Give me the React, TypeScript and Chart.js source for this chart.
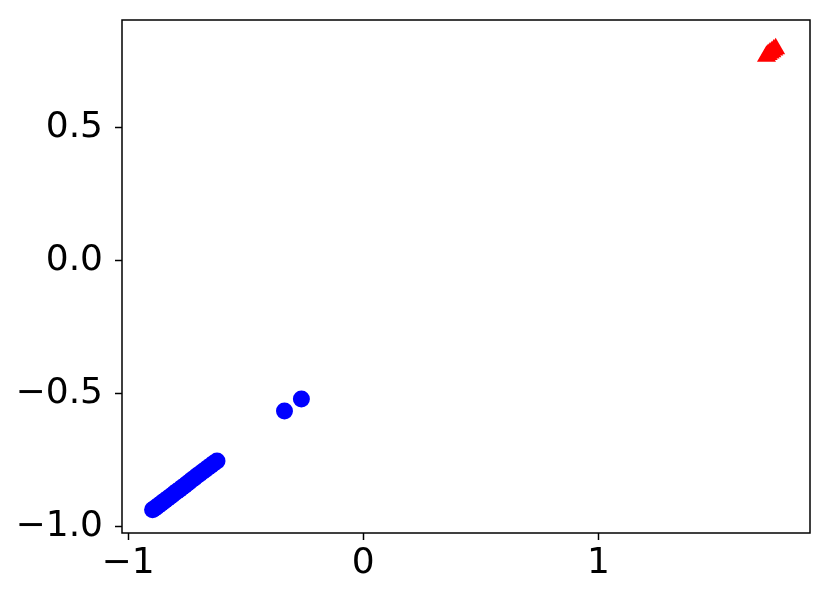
import React, { useEffect, useRef } from "react";
import { Chart, registerables } from "chart.js";

Chart.register(...registerables);

const blueX = [-0.896, -0.888, -0.879, -0.870, -0.861, -0.851, -0.842, -0.832, -0.822, -0.812, -0.802, -0.792, -0.781, -0.771, -0.760, -0.750, -0.740, -0.729, -0.718, -0.707, -0.696, -0.684, -0.672, -0.660, -0.648, -0.636, -0.622, -0.335, -0.263];
const blueY = [-0.936, -0.931, -0.925, -0.919, -0.913, -0.906, -0.900, -0.893, -0.887, -0.880, -0.873, -0.866, -0.859, -0.852, -0.845, -0.838, -0.831, -0.823, -0.816, -0.808, -0.801, -0.793, -0.785, -0.777, -0.769, -0.761, -0.752, -0.564, -0.519];
const redX = [1.715, 1.722, 1.730, 1.738, 1.746, 1.754];
const redY = [0.770, 0.776, 0.782, 0.787, 0.793, 0.798];
const xTicks = [-1, 0, 1];
const yTicks = [-1.0, -0.5, 0.0, 0.5];

const fmt = (s: string) => s.replace("-", "\u2212");

export default function App() {
  const ref = useRef<HTMLCanvasElement | null>(null);
  useEffect(() => {
    document.body.style.margin = "0";
    const canvas = ref.current!;
    const frame = {
      id: "frame",
      afterDraw(chart: any) {
        const { ctx, chartArea: a } = chart;
        ctx.save();
        ctx.strokeStyle = "#000";
        ctx.lineWidth = 1.5;
        ctx.strokeRect(a.left, a.top, a.right - a.left, a.bottom - a.top);
        ctx.restore();
      },
    };
    const chart = new Chart(canvas, {
      type: "scatter",
      data: {
        datasets: [
          {
            data: blueX.map((x, i) => ({ x, y: blueY[i] })),
            backgroundColor: "#0000ff",
            borderColor: "#0000ff",
            pointRadius: 8.5,
            pointStyle: "circle",
            borderWidth: 0,
          },
          {
            data: redX.map((x, i) => ({ x, y: redY[i] })),
            backgroundColor: "#ff0000",
            borderColor: "#ff0000",
            pointRadius: 11,
            pointStyle: "triangle",
            borderWidth: 0,
          },
        ],
      },
      plugins: [frame],
      options: {
        animation: false,
        responsive: false,
        layout: { padding: { top: 20, right: 20, left: 0, bottom: 0 } },
        plugins: { legend: { display: false }, tooltip: { enabled: false } },
        scales: {
          x: {
            type: "linear",
            min: -1.026,
            max: 1.9,
            afterFit: (s: any) => { s.height = 65; s.paddingLeft = 0; s.paddingRight = 0; },
            afterBuildTicks: (s: any) => { s.ticks = xTicks.map((v) => ({ value: v })); },
            ticks: {
              includeBounds: false,
              color: "#000",
              font: { family: "DejaVu Sans", size: 36 },
              padding: 2,
              maxRotation: 0,
              callback: (v: any) => fmt(String(v)),
            },
            grid: { drawOnChartArea: false, tickLength: 7, color: "#000", tickWidth: 1.5 },
            border: { display: false },
          },
          y: {
            type: "linear",
            min: -1.023,
            max: 0.906,
            afterFit: (s: any) => { s.width = 122; s.paddingTop = 0; s.paddingBottom = 0; },
            afterBuildTicks: (s: any) => { s.ticks = yTicks.map((v) => ({ value: v })); },
            ticks: {
              includeBounds: false,
              color: "#000",
              font: { family: "DejaVu Sans", size: 36 },
              padding: 12,
              callback: (v: any) => fmt(Number(v).toFixed(1)),
            },
            grid: { drawOnChartArea: false, tickLength: 7, color: "#000", tickWidth: 1.5 },
            border: { display: false },
          },
        },
      },
    } as any);
    return () => chart.destroy();
  }, []);
  return (
    <div style={{ width: 830, height: 598, background: "#fff" }}>
      <canvas ref={ref} width={830} height={598} />
    </div>
  );
}
